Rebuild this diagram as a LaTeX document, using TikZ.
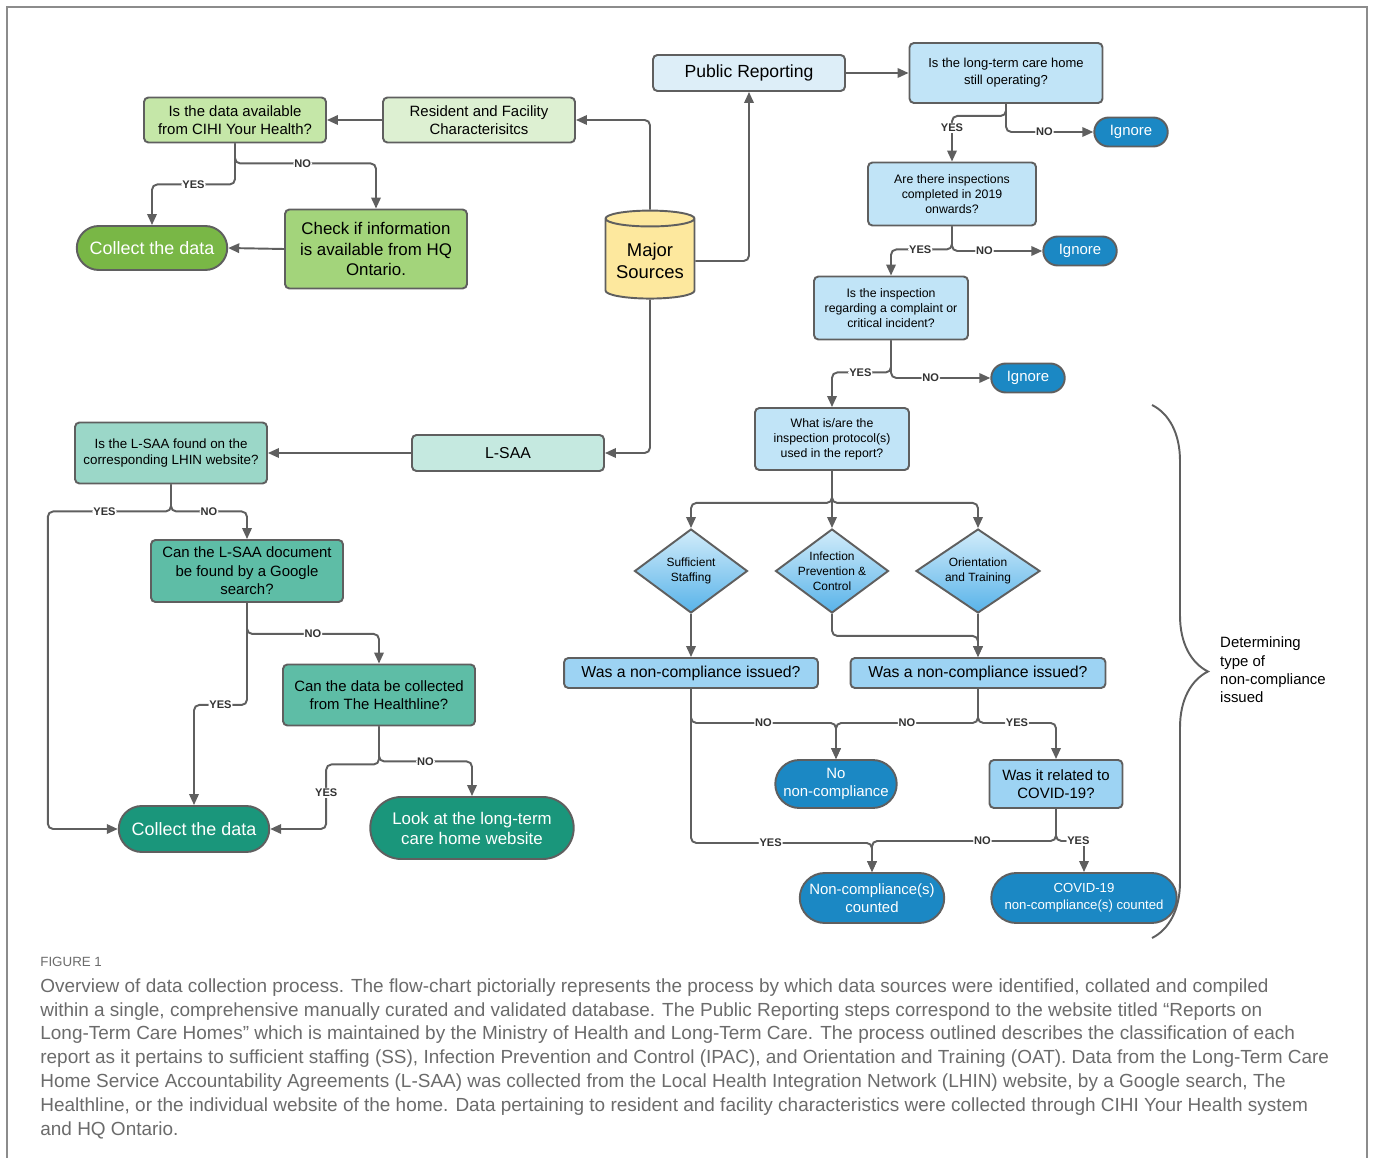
\documentclass[tikz,border=0pt]{standalone}
\usepackage{fontspec}
\setmainfont{Liberation Sans}
\usetikzlibrary{positioning,arrows.meta,calc,shapes.geometric,shapes.misc,decorations.pathreplacing}
\definecolor{linegray}{HTML}{5F5F5F}
\definecolor{framegray}{HTML}{8C8C8C}
\definecolor{pubfill}{HTML}{DDEEF8}
\definecolor{qblue}{HTML}{C1E4F7}
\definecolor{mblue}{HTML}{9DD3F3}
\definecolor{dblue}{HTML}{1B88C4}
\definecolor{qtop}{HTML}{D2ECFA}
\definecolor{qbot}{HTML}{58B3E9}
\definecolor{resfill}{HTML}{DDF0D2}
\definecolor{cihifill}{HTML}{C5E7A8}
\definecolor{hqfill}{HTML}{A3D47B}
\definecolor{gcol}{HTML}{79B746}
\definecolor{srcfill}{HTML}{FDE89E}
\definecolor{lsaafill}{HTML}{C5E9E0}
\definecolor{lhinfill}{HTML}{9BD7C8}
\definecolor{tealfill}{HTML}{5EBDA6}
\definecolor{dteal}{HTML}{1A967B}
\definecolor{capgray}{HTML}{6B6B6B}
\newcommand\fsz[2]{\fontsize{#1}{#2}\selectfont}
\tikzset{
  box/.style={rectangle, draw=linegray, line width=1.1pt, rounded corners=2.5pt,
              align=center, inner sep=1pt, text=black},
  term/.style={rounded rectangle, draw=linegray, line width=1.1pt, align=center,
               inner sep=1pt, text=white},
  dec/.style={diamond, aspect=1.35, draw=linegray, line width=1.1pt, align=center, inner sep=-4pt,
              top color=qtop, bottom color=qbot, font=\fsz{6.8}{8.6}},
  flow/.style={draw=linegray, line width=1.1pt, rounded corners=3pt,
               -{Triangle[length=2.2mm, width=1.9mm]}},
  lab/.style={font=\bfseries\fsz{6.3}{7}, fill=white, inner sep=0.6pt, text=black!80},
}
\begin{document}
\begin{tikzpicture}[x=0.02cm, y=-0.02cm]
  \useasboundingbox (0,0) rectangle (1375,1158);
  \draw[framegray, line width=1.4pt] (7,7) rectangle (1367,1220);
  % sources
  \node[cylinder, shape border rotate=90, aspect=0.2, draw=linegray, line width=1.1pt,
        fill=srcfill, minimum width=1.78cm, minimum height=1.76cm, align=center,
        font=\fsz{10.5}{12.5}] (src) at (650,261) {Major\\Sources};
  \node[box, fill=pubfill, minimum width=3.84cm, minimum height=0.72cm,
        font=\fsz{10}{12}] (pub) at (749,73) {Public Reporting};
  % resident and facility
  \node[box, fill=resfill, minimum width=3.84cm, minimum height=0.9cm,
        font=\fsz{8.5}{10.5}] (res) at (479,120) {Resident and Facility\\Characterisitcs};
  \node[box, fill=cihifill, minimum width=3.64cm, minimum height=0.9cm,
        font=\fsz{8.5}{10.5}] (cihi) at (235,120) {Is the data available\\from CIHI Your Health?};
  \node[box, fill=hqfill, minimum width=3.64cm, minimum height=1.58cm,
        font=\fsz{9.6}{11.4}] (hq) at (376,249) {Check if information\\is available from HQ\\Ontario.};
  \node[term, fill=gcol, minimum width=3.08cm, minimum height=0.88cm,
        font=\fsz{10.2}{12}] (col1) at (152,248) {Collect the data};
  % L-SAA
  \node[box, fill=lsaafill, minimum width=3.84cm, minimum height=0.72cm,
        font=\fsz{9}{11}] (lsaa) at (508,453) {L-SAA};
  \node[box, fill=lhinfill, minimum width=3.84cm, minimum height=1.22cm,
        font=\fsz{7.6}{9.6}] (lhin) at (171,453) {Is the L-SAA found on the\\corresponding LHIN website?};
  \node[box, fill=tealfill, minimum width=3.84cm, minimum height=1.24cm,
        font=\fsz{8.5}{10.6}] (goog) at (247,571) {Can the L-SAA document\\be found by a Google\\search?};
  \node[box, fill=tealfill, minimum width=3.84cm, minimum height=1.22cm,
        font=\fsz{8.5}{10.6}] (hline) at (379,695) {Can the data be collected\\from The Healthline?};
  \node[term, fill=dteal, minimum width=3.08cm, minimum height=0.92cm,
        font=\fsz{10.2}{12}] (col2) at (194,829) {Collect the data};
  \node[term, fill=dteal, minimum width=4.14cm, minimum height=1.24cm,
        font=\fsz{9.6}{11.4}] (look) at (472,828) {Look at the long-term\\care home website};
  % public reporting questions
  \node[box, fill=qblue, minimum width=3.86cm, minimum height=1.2cm,
        font=\fsz{7.4}{9.6}] (q1) at (1006,73) {Is the long-term care home\\still operating?};
  \node[term, fill=dblue, minimum width=1.54cm, minimum height=0.58cm,
        font=\fsz{8.5}{10}] (ig1) at (1131,132) {Ignore};
  \node[box, fill=qblue, minimum width=3.36cm, minimum height=1.26cm,
        font=\fsz{7}{8.6}] (q2) at (952,194) {Are there inspections\\completed in 2019\\onwards?};
  \node[term, fill=dblue, minimum width=1.54cm, minimum height=0.58cm,
        font=\fsz{8.5}{10}] (ig2) at (1080,251) {Ignore};
  \node[box, fill=qblue, minimum width=3.08cm, minimum height=1.26cm,
        font=\fsz{7}{8.6}] (q3) at (891,308) {Is the inspection\\regarding a complaint or\\critical incident?};
  \node[term, fill=dblue, minimum width=1.54cm, minimum height=0.58cm,
        font=\fsz{8.5}{10}] (ig3) at (1028,378) {Ignore};
  \node[box, fill=qblue, minimum width=3.08cm, minimum height=1.24cm,
        font=\fsz{7}{8.6}] (q4) at (832,439) {What is/are the\\inspection protocol(s)\\used in the report?};
  % protocols
  \node[dec, minimum width=2.26cm, minimum height=1.68cm] (ss) at (691,571) {Sufficient\\Staffing};
  \node[dec, minimum width=2.26cm, minimum height=1.68cm] (ipc) at (832,571) {Infection\\Prevention \&\\Control};
  \node[dec, minimum width=2.48cm, minimum height=1.68cm] (oat) at (978,571) {Orientation\\and Training};
  \node[box, fill=mblue, minimum width=5.08cm, minimum height=0.6cm,
        font=\fsz{9}{11}] (was1) at (691,673) {Was a non-compliance issued?};
  \node[box, fill=mblue, minimum width=5.1cm, minimum height=0.6cm,
        font=\fsz{9}{11}] (was2) at (978,673) {Was a non-compliance issued?};
  \node[term, fill=dblue, minimum width=2.5cm, minimum height=0.96cm,
        font=\fsz{8.5}{10.4}] (nonc) at (836,784) {No\\non-compliance};
  \node[box, fill=mblue, minimum width=2.66cm, minimum height=0.96cm,
        font=\fsz{8.5}{10.4}] (covq) at (1056,784) {Was it related to\\COVID-19?};
  \node[term, fill=dblue, minimum width=2.96cm, minimum height=1cm,
        font=\fsz{8.5}{10.4}] (cnt) at (872,898) {Non-compliance(s)\\counted};
  \node[term, fill=dblue, minimum width=3.78cm, minimum height=1cm,
        font=\fsz{7.5}{9.6}] (ccnt) at (1084,898) {COVID-19\\non-compliance(s) counted};
  % brace
  \coordinate (bt) at (1152,405);
  \coordinate (bb) at (1152,938);
  \draw[linegray, line width=1.1pt, decorate, decoration={brace, amplitude=1.12cm}] (bt) -- (bb);
  \node[anchor=west, align=left, font=\fsz{8.5}{10.4}] (det) at (1214,670)
       {Determining\\type of\\non-compliance\\issued};
  % connectors from sources
  \draw[flow] (src.north) |- (res.east);
  \draw[flow] (src.east) -| (pub.south);
  \draw[flow] (pub.east) -- (q1.west);
  \draw[flow] (src.south) |- (lsaa.east);
  % resident and facility branch
  \draw[flow] (res.west) -- (cihi.east);
  \draw[flow] (cihi.south) -- ++(0,20) -| node[lab, pos=0.24]{NO} (hq.north);
  \draw[flow] (cihi.south) -- ++(0,41) -| node[lab, pos=0.25]{YES} (col1.north);
  \draw[flow] (hq.west) -- (col1.east);
  % L-SAA branch
  \draw[flow] (lsaa.west) -- (lhin.east);
  \draw[flow] (lhin.south) -- ++(0,27) -| node[lab, pos=0.27]{YES} ($(col2.west)+(-70,0)$) -- (col2.west);
  \draw[flow] (lhin.south) -- ++(0,27) -| node[lab, pos=0.25]{NO} (goog.north);
  \draw[flow] (goog.south) -- ++(0,31) -| node[lab, pos=0.25]{NO} (hline.north);
  \draw[flow] (goog.south) -- ++(0,102) -| node[lab, pos=0.25]{YES} (col2.north);
  \draw[flow] (hline.south) -- ++(0,35) -| node[lab, pos=0.25]{NO} (look.north);
  \draw[flow] (hline.south) -- ++(0,38) -| node[lab, pos=0.72]{YES} ($(col2.east)+(56,0)$) -- (col2.east);
  % public reporting branch
  \draw[flow] (q1.south) -- ++(0,12) -| node[lab, pos=0.63]{YES} (q2.north);
  \draw[flow] (q1.south) |- node[lab, pos=0.72]{NO} (ig1.west);
  \draw[flow] (q2.south) -- ++(0,23) -| node[lab, pos=0.26]{YES} (q3.north);
  \draw[flow] (q2.south) |- node[lab, pos=0.68]{NO} (ig2.west);
  \draw[flow] (q3.south) -- ++(0,32) -| node[lab, pos=0.26]{YES} (q4.north);
  \draw[flow] (q3.south) |- node[lab, pos=0.7]{NO} (ig3.west);
  \draw[flow] (q4.south) -- ++(0,32) -| (ss.north);
  \draw[flow] (q4.south) -- ++(0,32) -| (oat.north);
  \draw[flow] (q4.south) -- (ipc.north);
  \draw[flow] (ss.south) -- (was1.north);
  \draw[flow] (oat.south) -- (was2.north);
  \draw[flow] (ipc.south) -- ++(0,22) -| (was2.north);
  % non-compliance outcomes
  \draw[flow] (was1.south) -- ++(0,34) -| node[lab, pos=0.25]{NO} (nonc.north);
  \draw[flow] (was1.south) -- ++(0,154) -| node[lab, pos=0.22]{YES} (cnt.north);
  \draw[flow] (was2.south) -- ++(0,34) -| node[lab, pos=0.25]{NO} (nonc.north);
  \draw[flow] (was2.south) -- ++(0,34) -| node[lab, pos=0.25]{YES} (covq.north);
  \draw[flow] (covq.south) -- ++(0,32) -| node[lab, pos=0.2]{NO} (cnt.north);
  \draw[flow] (covq.south) -- ++(0,32) -| node[lab, pos=0.4]{YES} (ccnt.north);
  % caption
  \node[anchor=north west, inner sep=0pt, text=capgray, font=\fsz{7.6}{9}] (fig) at (40,957) {FIGURE 1};
  \node[anchor=north west, inner sep=0pt, align=left, text=capgray, font=\fsz{10.8}{13.6}] (cap) at (40,978)
  {Overview of data collection process. The flow-chart pictorially represents the process by which data sources were identified, collated and compiled\\
   within a single, comprehensive manually curated and validated database. The Public Reporting steps correspond to the website titled “Reports on\\
   Long-Term Care Homes” which is maintained by the Ministry of Health and Long-Term Care. The process outlined describes the classification of each\\
   report as it pertains to sufficient staffing (SS), Infection Prevention and Control (IPAC), and Orientation and Training (OAT). Data from the Long-Term Care\\
   Home Service Accountability Agreements (L-SAA) was collected from the Local Health Integration Network (LHIN) website, by a Google search, The\\
   Healthline, or the individual website of the home. Data pertaining to resident and facility characteristics were collected through CIHI Your Health system\\
   and HQ Ontario.};
\end{tikzpicture}
\end{document}
